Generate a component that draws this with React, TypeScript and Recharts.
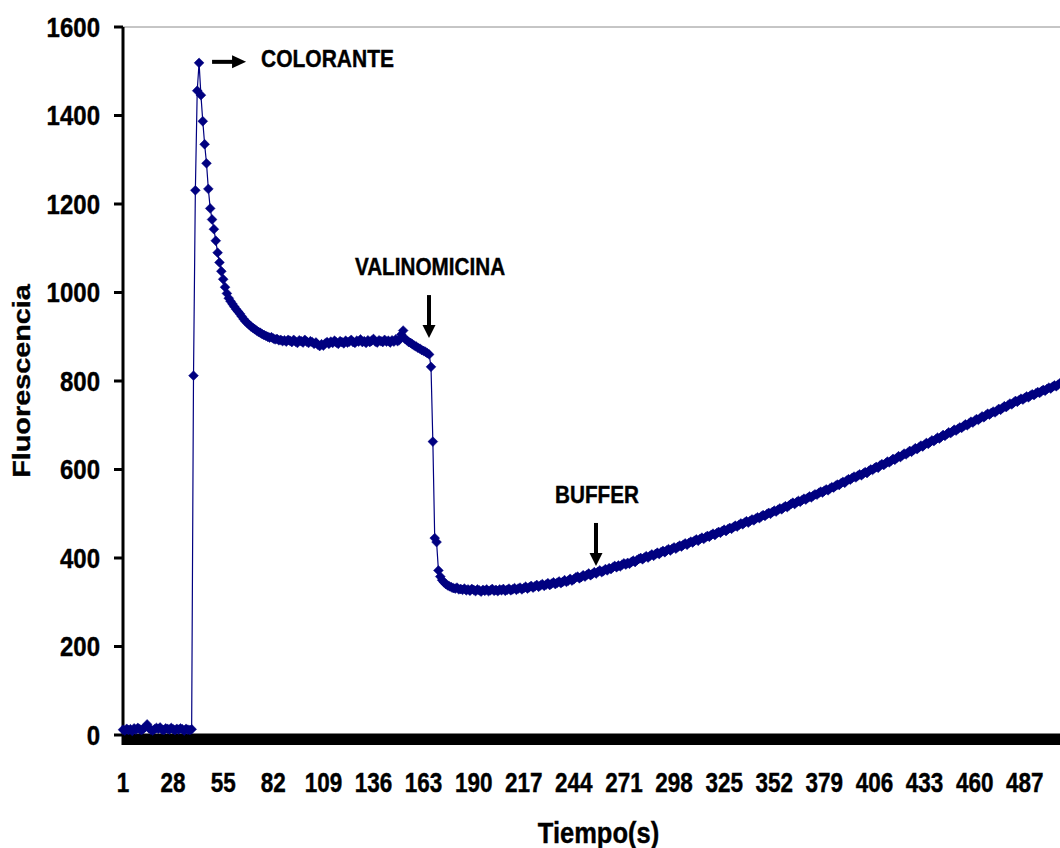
import React from 'react';
import { LineChart, Line, XAxis, YAxis, ReferenceLine, ReferenceDot } from 'recharts';

// Fluorescence readings, one per second, split by experimental phase
const baseline = [
  12, 10, 14, 11, 13, 9, 15, 12, 16, 13, 11, 14, 18, 24, 15, 12, 10, 13, 16, 14,
  17, 12, 11, 15, 14, 12, 16, 13, 11, 14, 12, 15, 13, 10, 14, 12, 11, 13,
];

const dyeResponse = [
  812, 1231, 1456, 1519, 1446, 1387, 1335, 1292, 1234, 1190, 1165, 1143, 1117, 1090, 1068, 1048, 1030, 1012,
  998, 987, 980, 974, 968, 962, 957, 952, 946, 940, 935, 931, 927, 923, 920, 917, 914, 911,
  909, 906, 904, 902, 900, 898, 899, 896, 894, 895, 892, 893, 890, 892, 889, 893,
];

const plateau = [
  891, 888, 893, 889, 886, 892, 890, 887, 893, 889,
  886, 890, 888, 884, 887, 882, 879, 883, 880, 885,
  888, 884, 889, 886, 891, 887, 884, 890, 888, 885,
  891, 887, 889, 893, 888, 886, 891, 889, 894, 888,
  890, 886, 892, 888, 891, 895, 889, 887, 892, 890,
  888, 893, 889, 891, 887, 892, 889, 894, 890, 893,
];

const valinomycin = [
  905, 914, 895, 892, 888, 886, 883, 880, 878, 875, 873, 870, 868, 866, 863, 860,
  832, 663, 445, 436, 372, 358,
];

const recovery = [
  350, 345, 341, 338, 336, 334, 332, 331, 333, 329,
  330, 328, 331, 327, 329, 326, 330, 328, 325, 329,
  327, 324, 328, 326, 329, 325, 327, 330, 326, 328,
  325, 329, 327, 330, 326, 328, 331, 327, 329, 332,
  328, 331, 333, 329, 332, 335, 331, 334, 337, 333,
  336, 339, 335, 338, 341, 337, 340, 343, 339, 342,
  345, 341, 344, 347, 343, 346, 350, 346, 349, 353,
  349, 352, 356, 358, 354, 357, 361, 358, 362, 365,
  361, 364, 368, 365, 369, 372, 368, 371, 375, 372,
  377, 375, 379, 382, 379, 383, 381, 385, 388, 385,
  389, 387, 391, 394, 391, 395, 398, 400, 397, 401,
  404, 401, 405, 408, 405, 409, 412, 409, 413, 416,
  413, 417, 420, 417, 421, 424, 421, 425, 428, 426,
  430, 433, 430, 434, 437, 435, 439, 442, 439, 443,
  446, 443, 447, 450, 448, 452, 455, 452, 456, 459,
  457, 461, 464, 461, 465, 468, 466, 470, 473, 471,
  475, 478, 476, 480, 483, 480, 484, 487, 485, 489,
  492, 490, 494, 497, 495, 499, 502, 500, 504, 507,
  505, 509, 512, 510, 514, 517, 515, 519, 522, 525,
  522, 526, 529, 527, 531, 534, 532, 536, 539, 537,
  541, 544, 543, 547, 550, 548, 552, 555, 553, 557,
  560, 559, 563, 566, 565, 569, 572, 570, 575, 578,
  577, 581, 584, 582, 586, 589, 587, 591, 594, 592,
  597, 600, 599, 603, 606, 604, 609, 612, 610, 614,
  618, 616, 620, 624, 622, 626, 630, 628, 632, 636,
  634, 638, 642, 640, 644, 648, 646, 650, 654, 652,
  656, 660, 658, 662, 666, 664, 668, 672, 670, 674,
  678, 676, 680, 684, 682, 686, 690, 688, 692, 695,
  694, 698, 702, 700, 704, 708, 706, 710, 714, 712,
  716, 720, 718, 722, 726, 724, 728, 731, 729, 733,
  737, 735, 739, 743, 741, 745, 749, 747, 751, 755,
  753, 757, 760, 758, 762, 765, 763, 767, 770, 768,
  772, 775, 773, 777, 780, 778, 782, 785, 783, 787,
  790, 788, 792, 795,
];

const fluorescence = [...baseline, ...dyeResponse, ...plateau, ...valinomycin, ...recovery];
const seconds = fluorescence.map((_, i) => i + 1);

const xTickLabels = [1, 28, 55, 82, 109, 136, 163, 190, 217, 244, 271, 298, 325, 352, 379, 406, 433, 460, 487];
const yTicks = [0, 200, 400, 600, 800, 1000, 1200, 1400, 1600];

// Event markers: label, time of the event, fluorescence level the arrow points at
const events = [
  { label: 'COLORANTE', t: 42, value: 1519, dir: 'right' },
  { label: 'VALINOMICINA', t: 167, value: 897, dir: 'down' },
  { label: 'BUFFER', t: 257, value: 382, dir: 'down' },
];

const data = seconds.map((t, i) => ({ t, f: fluorescence[i] }));

const FONT = '"Liberation Sans", Arial, Helvetica, sans-serif';
const NAVY = '#000080';

function BoldText({ x, y, size, anchor = 'middle', sy = 1.15, children }: any) {
  return (
    <text
      transform={`translate(${x},${y}) scale(1,${sy})`}
      textAnchor={anchor}
      fontFamily={FONT}
      fontWeight="bold"
      fontSize={size}
      fill="#000"
      stroke="#000"
      strokeWidth={0.35}
    >
      {children}
    </text>
  );
}

function XTick(props: any) {
  const { x, y, payload } = props;
  if (!xTickLabels.includes(payload.value)) return null;
  return <BoldText x={x} y={y + 47} size={22.5} sy={1.22}>{payload.value}</BoldText>;
}

function YTick(props: any) {
  const { x, y, payload } = props;
  return <BoldText x={x} y={y + 9.5} size={24} anchor="end" sy={1.12}>{payload.value}</BoldText>;
}

function Diamond(props: any) {
  const { cx, cy, index } = props;
  if (cx == null || cy == null) return <g key={`d-${index}`} />;
  const r = 4.9;
  return (
    <polygon
      key={`d-${index}`}
      points={`${cx},${cy - r} ${cx + r},${cy} ${cx},${cy + r} ${cx - r},${cy}`}
      fill={NAVY}
      stroke={NAVY}
      strokeWidth={0.5}
    />
  );
}

function EventMarker(label: string, dir: string) {
  return (props: any) => {
    const { cx, cy } = props;
    if (dir === 'right') {
      return (
        <g>
          <rect x={cx + 13} y={cy - 3} width={22} height={4} fill="#000" />
          <polygon points={`${cx + 33},${cy - 7.5} ${cx + 47},${cy - 1} ${cx + 33},${cy + 5.5}`} fill="#000" />
          <BoldText x={cx + 62} y={cy + 4} size={21} anchor="start" sy={1.12}>{label}</BoldText>
        </g>
      );
    }
    return (
      <g>
        <rect x={cx - 4} y={cy - 43} width={4} height={31} fill="#000" />
        <polygon points={`${cx - 8.5},${cy - 13} ${cx - 2},${cy} ${cx + 4.5},${cy - 13}`} fill="#000" />
        <BoldText x={cx - 1} y={cy - 63} size={20.7} sy={1.12}>{label}</BoldText>
      </g>
    );
  };
}

function XTitle(props: any) {
  const { viewBox } = props;
  return (
    <BoldText x={viewBox.x + viewBox.width / 2 + 7} y={viewBox.y + 108} size={25.5} sy={1.17}>
      Tiempo(s)
    </BoldText>
  );
}

function YTitle(props: any) {
  const { viewBox } = props;
  const cx = viewBox.x + 30;
  const cy = viewBox.y + viewBox.height / 2;
  return (
    <text
      transform={`translate(${cx},${cy}) rotate(-90) scale(1.2,1)`}
      textAnchor="middle"
      fontFamily={FONT}
      fontWeight="bold"
      fontSize={24}
      fill="#000"
      stroke="#000"
      strokeWidth={0.35}
    >
      Fluorescencia
    </text>
  );
}

export default function App() {
  return (
    <div style={{ position: 'absolute', left: 0, top: 0, width: 1060, height: 848, overflow: 'hidden', background: '#fff' }}>
      <LineChart width={1060} height={848} data={data} margin={{ top: 27, right: 0, bottom: 53, left: 0 }}>
        <XAxis
          dataKey="t"
          type="category"
          interval={0}
          tickSize={10}
          tickMargin={0}
          height={60}
          tick={<XTick />}
          axisLine={{ stroke: '#000', strokeWidth: 3 }}
          tickLine={{ stroke: '#000', strokeWidth: 3 }}
          label={<XTitle />}
        />
        <YAxis
          type="number"
          domain={[0, 1600]}
          ticks={yTicks}
          interval={0}
          width={123}
          tickSize={9}
          tickMargin={14}
          tick={<YTick />}
          axisLine={{ stroke: '#000', strokeWidth: 3 }}
          tickLine={{ stroke: '#000', strokeWidth: 3 }}
          label={<YTitle />}
        />
        <ReferenceLine y={1600} stroke="#8c8c8c" strokeWidth={1} />
        <Line
          type="linear"
          dataKey="f"
          stroke={NAVY}
          strokeWidth={1.2}
          dot={Diamond}
          activeDot={false}
          isAnimationActive={false}
        />
        {events.map((e) => (
          <ReferenceDot
            key={e.label}
            x={e.t}
            y={e.value}
            r={0}
            ifOverflow="visible"
            shape={EventMarker(e.label, e.dir)}
          />
        ))}
      </LineChart>
    </div>
  );
}
